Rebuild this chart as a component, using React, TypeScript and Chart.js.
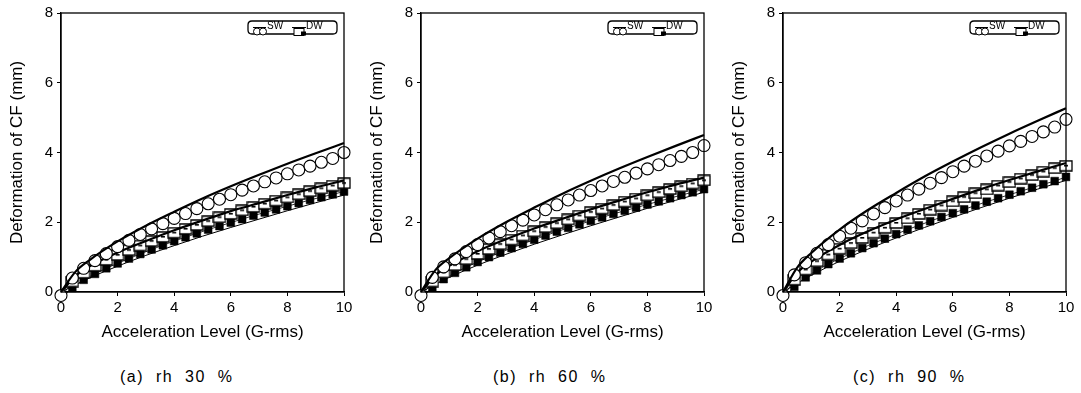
import React, { useEffect, useRef } from 'react';
import { Chart, registerables } from 'chart.js';

Chart.register(...registerables);

const FONT = '"Liberation Sans", Arial, sans-serif';

// x positions
const X_LINE = [0, 0.5, 1, 2, 3, 4, 5, 6, 7, 8, 9, 10];
const X_MARK = [0, 0.4, 0.8, 1.2, 1.6, 2.0, 2.4, 2.8, 3.2, 3.6, 4.0, 4.4, 4.8, 5.2, 5.6, 6.0, 6.4, 6.8, 7.2, 7.6, 8.0, 8.4, 8.8, 9.2, 9.6, 10];

const X_TICKS = [0, 2, 4, 6, 8, 10];
const Y_TICKS = [0, 2, 4, 6, 8];

// (a) rh 30 %
const SW_LINE_A = [0, 0.57, 0.91, 1.45, 1.9, 2.3, 2.68, 3.03, 3.36, 3.68, 3.98, 4.27];
const SW_PTS_A = [-0.1, 0.4, 0.68, 0.9, 1.1, 1.3, 1.48, 1.65, 1.81, 1.96, 2.11, 2.25, 2.39, 2.53, 2.66, 2.79, 2.92, 3.04, 3.16, 3.27, 3.39, 3.5, 3.61, 3.72, 3.83, 4.0];
const DW_UP_A = [0, 0.45, 0.73, 1.13, 1.46, 1.77, 2.05, 2.32, 2.55, 2.78, 3.0, 3.2];
const DW_OPEN_A = [-0.15, 0.3, 0.55, 0.75, 0.92, 1.06, 1.2, 1.33, 1.46, 1.58, 1.7, 1.81, 1.92, 2.03, 2.14, 2.24, 2.34, 2.44, 2.53, 2.62, 2.71, 2.8, 2.89, 2.97, 3.05, 3.12];
const DW_FILL_A = [-0.2, 0.12, 0.35, 0.52, 0.68, 0.82, 0.96, 1.09, 1.22, 1.34, 1.46, 1.57, 1.68, 1.79, 1.89, 1.99, 2.09, 2.19, 2.28, 2.37, 2.46, 2.55, 2.64, 2.72, 2.8, 2.88];
const DW_LOW_A = [0, 0.2, 0.4, 0.74, 1.05, 1.33, 1.6, 1.85, 2.09, 2.33, 2.56, 2.78];

// (b) rh 60 %
const SW_LINE_B = [0, 0.62, 0.97, 1.53, 2.0, 2.42, 2.82, 3.19, 3.54, 3.87, 4.19, 4.5];
const SW_PTS_B = [-0.1, 0.42, 0.72, 0.95, 1.16, 1.36, 1.55, 1.73, 1.9, 2.06, 2.21, 2.36, 2.5, 2.64, 2.78, 2.91, 3.04, 3.17, 3.29, 3.41, 3.53, 3.65, 3.77, 3.89, 4.0, 4.2];
const DW_UP_B = [0, 0.47, 0.75, 1.17, 1.51, 1.82, 2.1, 2.37, 2.62, 2.86, 3.08, 3.28];
const DW_OPEN_B = [-0.15, 0.3, 0.56, 0.77, 0.94, 1.09, 1.23, 1.37, 1.5, 1.62, 1.74, 1.86, 1.97, 2.08, 2.19, 2.29, 2.39, 2.49, 2.59, 2.68, 2.77, 2.86, 2.95, 3.03, 3.11, 3.2];
const DW_FILL_B = [-0.2, 0.13, 0.37, 0.55, 0.71, 0.86, 1.0, 1.13, 1.26, 1.38, 1.5, 1.62, 1.73, 1.84, 1.94, 2.04, 2.14, 2.24, 2.33, 2.42, 2.51, 2.6, 2.69, 2.78, 2.86, 2.95];
const DW_LOW_B = [0, 0.22, 0.42, 0.77, 1.08, 1.37, 1.64, 1.9, 2.15, 2.4, 2.63, 2.86];

// (c) rh 90 %
const SW_LINE_C = [0, 0.7, 1.12, 1.79, 2.35, 2.84, 3.31, 3.74, 4.15, 4.54, 4.91, 5.27];
const SW_PTS_C = [-0.1, 0.49, 0.84, 1.11, 1.36, 1.6, 1.83, 2.04, 2.24, 2.42, 2.61, 2.78, 2.95, 3.12, 3.28, 3.45, 3.61, 3.75, 3.9, 4.04, 4.19, 4.32, 4.46, 4.59, 4.73, 4.95];
const DW_UP_C = [0, 0.55, 0.87, 1.35, 1.74, 2.08, 2.38, 2.67, 2.95, 3.21, 3.46, 3.7];
const DW_OPEN_C = [-0.15, 0.35, 0.64, 0.88, 1.07, 1.24, 1.4, 1.55, 1.7, 1.84, 1.98, 2.11, 2.24, 2.36, 2.48, 2.6, 2.72, 2.83, 2.94, 3.05, 3.15, 3.25, 3.35, 3.45, 3.55, 3.62];
const DW_FILL_C = [-0.2, 0.15, 0.42, 0.62, 0.8, 0.96, 1.11, 1.26, 1.4, 1.53, 1.66, 1.79, 1.91, 2.03, 2.15, 2.26, 2.37, 2.48, 2.59, 2.69, 2.79, 2.89, 2.99, 3.09, 3.18, 3.3];
const DW_LOW_C = [0, 0.25, 0.48, 0.88, 1.23, 1.55, 1.85, 2.14, 2.42, 2.69, 2.95, 3.2];

const CAPTIONS = ['(a)  rh  30  %', '(b)  rh  60  %', '(c)  rh  90  %'];
const LEGEND_LABELS = ['SW', 'DW'];
const X_TITLE = 'Acceleration Level (G-rms)';
const Y_TITLE = 'Deformation of CF (mm)';

const PANELS = [
  { sw: SW_LINE_A, swPts: SW_PTS_A, up: DW_UP_A, open: DW_OPEN_A, fill: DW_FILL_A, low: DW_LOW_A, caption: CAPTIONS[0], left: 0, capLeft: 120 },
  { sw: SW_LINE_B, swPts: SW_PTS_B, up: DW_UP_B, open: DW_OPEN_B, fill: DW_FILL_B, low: DW_LOW_B, caption: CAPTIONS[1], left: 360, capLeft: 493 },
  { sw: SW_LINE_C, swPts: SW_PTS_C, up: DW_UP_C, open: DW_OPEN_C, fill: DW_FILL_C, low: DW_LOW_C, caption: CAPTIONS[2], left: 722, capLeft: 853 },
];

const zip = (xs: number[], ys: number[]) => xs.map((x, i) => ({ x, y: ys[i] }));

function makeOpenSquare(): HTMLCanvasElement {
  const c = document.createElement('canvas');
  c.width = 14;
  c.height = 12;
  const g = c.getContext('2d')!;
  g.fillStyle = '#fff';
  g.strokeStyle = '#000';
  g.lineWidth = 1.3;
  g.beginPath();
  g.rect(1, 1, 12, 10);
  g.fill();
  g.stroke();
  g.fillStyle = '#000';
  g.fillRect(5, 5, 4, 1.6);
  return c;
}

const framePlugin = {
  id: 'frameAndLegend',
  afterDraw(chart: any) {
    const { ctx, chartArea } = chart;
    const { left, top, right, bottom } = chartArea;
    ctx.save();
    ctx.strokeStyle = '#000';
    ctx.lineWidth = 1.3;
    ctx.strokeRect(left, top, right - left, bottom - top);

    // legend box
    const bw = 89;
    const bh = 13;
    const bx = right - 7 - bw;
    const by = top + 8;
    ctx.lineWidth = 1.3;
    ctx.beginPath();
    const r = 4;
    ctx.moveTo(bx + r, by);
    ctx.lineTo(bx + bw - r, by);
    ctx.quadraticCurveTo(bx + bw, by, bx + bw, by + r);
    ctx.lineTo(bx + bw, by + bh - r);
    ctx.quadraticCurveTo(bx + bw, by + bh, bx + bw - r, by + bh);
    ctx.lineTo(bx + r, by + bh);
    ctx.quadraticCurveTo(bx, by + bh, bx, by + bh - r);
    ctx.lineTo(bx, by + r);
    ctx.quadraticCurveTo(bx, by, bx + r, by);
    ctx.stroke();

    const my = by + bh / 2;
    // SW symbol
    ctx.lineWidth = 1;
    ctx.beginPath();
    ctx.moveTo(bx + 5, my);
    ctx.lineTo(bx + 18, my);
    ctx.stroke();
    ctx.fillStyle = '#fff';
    ctx.beginPath();
    ctx.arc(bx + 9, my + 4, 3.5, 0, Math.PI * 2);
    ctx.fill();
    ctx.stroke();
    ctx.beginPath();
    ctx.arc(bx + 15, my + 4, 3.5, 0, Math.PI * 2);
    ctx.fill();
    ctx.stroke();
    ctx.fillStyle = '#000';
    ctx.font = `10px ${FONT}`;
    ctx.textBaseline = 'middle';
    ctx.textAlign = 'left';
    ctx.fillText(LEGEND_LABELS[0], bx + 19, my - 1);

    // DW symbol
    ctx.beginPath();
    ctx.moveTo(bx + 44, my);
    ctx.lineTo(bx + 58, my);
    ctx.stroke();
    ctx.fillStyle = '#fff';
    ctx.fillRect(bx + 46, my + 1, 10, 7);
    ctx.strokeRect(bx + 46, my + 1, 10, 7);
    ctx.fillStyle = '#000';
    ctx.fillRect(bx + 53, my + 4, 5, 4);
    ctx.fillText(LEGEND_LABELS[1], bx + 58, my - 1);
    ctx.restore();
  },
};

function Panel({ p }: { p: (typeof PANELS)[number] }) {
  const ref = useRef<HTMLCanvasElement>(null);
  useEffect(() => {
    const openSq = makeOpenSquare();
    const lineDs = (ys: number[], width: number, dash: number[] = []) => ({
      type: 'line',
      data: zip(X_LINE, ys),
      borderColor: '#000',
      borderWidth: width,
      borderDash: dash,
      pointRadius: 0,
      cubicInterpolationMode: 'monotone',
      clip: false,
      fill: false,
    });
    const chart = new Chart(ref.current!, {
      type: 'line',
      data: {
        datasets: [
          { ...lineDs(p.sw, 2.2), order: 1 },
          {
            type: 'line',
            data: zip(X_MARK, p.swPts),
            borderColor: '#000',
            borderWidth: 0.8,
            pointStyle: 'circle',
            pointRadius: 6,
            pointBackgroundColor: '#fff',
            pointBorderColor: '#000',
            pointBorderWidth: 1.1,
            clip: false,
            order: 2,
          },
          { ...lineDs(p.up, 2.2), order: 3 },
          {
            type: 'line',
            data: zip(X_MARK, p.open),
            borderColor: '#000',
            borderWidth: 0.8,
            pointStyle: openSq,
            clip: false,
            order: 4,
          },
          {
            type: 'line',
            data: zip(X_MARK, p.fill),
            borderColor: '#000',
            borderWidth: 0.8,
            pointStyle: 'rect',
            pointRadius: 5.5,
            pointBackgroundColor: '#000',
            pointBorderColor: '#000',
            pointBorderWidth: 0.5,
            clip: false,
            order: 5,
          },
          { ...lineDs(p.low, 1), order: 6 },
        ] as any,
      },
      options: {
        responsive: false,
        animation: false,
        devicePixelRatio: 1,
        layout: { padding: { left: 0, right: 16, top: 12, bottom: 0 } },
        plugins: { legend: { display: false }, tooltip: { enabled: false } },
        scales: {
          x: {
            type: 'linear',
            min: 0,
            max: 10,
            afterFit: (s: any) => {
              s.height = 58;
            },
            afterBuildTicks: (s: any) => {
              s.ticks = X_TICKS.map((v) => ({ value: v }));
            },
            ticks: { color: '#000', font: { family: FONT, size: 15 }, padding: 3, maxRotation: 0 },
            grid: { drawOnChartArea: false, drawTicks: true, tickLength: 4, color: '#000', lineWidth: 1 },
            border: { display: true, color: '#000', width: 1.3 },
            title: { display: true, text: X_TITLE, color: '#000', font: { family: FONT, size: 17 }, padding: { top: 0, bottom: 7 } },
          },
          y: {
            type: 'linear',
            min: 0,
            max: 8,
            afterFit: (s: any) => {
              s.width = 61;
            },
            afterBuildTicks: (s: any) => {
              s.ticks = Y_TICKS.map((v) => ({ value: v }));
            },
            ticks: { color: '#000', font: { family: FONT, size: 15 }, padding: 4 },
            grid: { drawOnChartArea: false, drawTicks: true, tickLength: 4, color: '#000', lineWidth: 1 },
            border: { display: true, color: '#000', width: 1.3 },
            title: { display: true, text: Y_TITLE, color: '#000', font: { family: FONT, size: 17 }, padding: { top: 7, bottom: 0 } },
          },
        },
      } as any,
      plugins: [framePlugin],
    });
    return () => chart.destroy();
  }, [p]);
  return (
    <>
      <canvas ref={ref} width={360} height={350} style={{ position: 'absolute', left: p.left, top: 0, width: 360, height: 350 }} />
      <div
        style={{
          position: 'absolute',
          left: p.capLeft,
          top: 367,
          font: `16px ${FONT}`,
          letterSpacing: '1.5px',
          whiteSpace: 'pre',
          color: '#000',
          lineHeight: '20px',
        }}
      >
        {p.caption}
      </div>
    </>
  );
}

export default function App() {
  return (
    <div style={{ position: 'absolute', left: 0, top: 0, width: 1081, height: 393, background: '#fff', overflow: 'hidden' }}>
      {PANELS.map((p, i) => (
        <Panel key={i} p={p} />
      ))}
    </div>
  );
}
